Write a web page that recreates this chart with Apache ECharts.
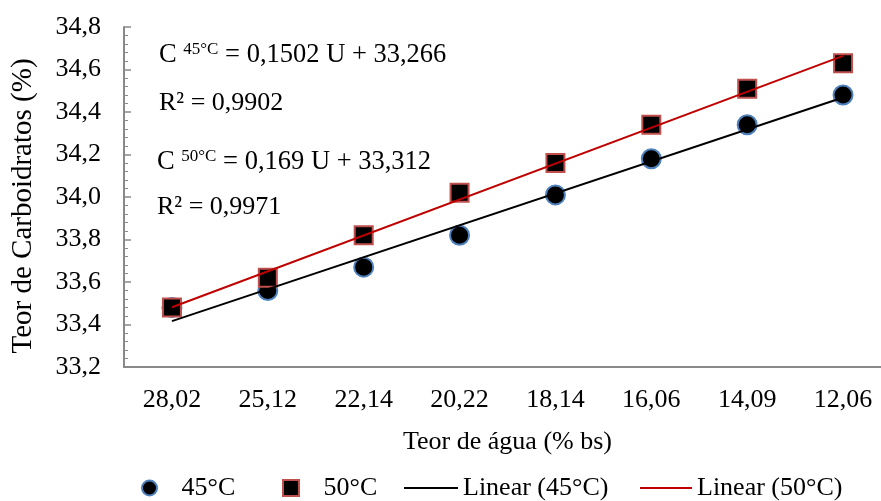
<!DOCTYPE html>
<html>
<head>
<meta charset="utf-8">
<script src="https://cdn.jsdelivr.net/npm/echarts@6/dist/echarts.min.js"></script>
<style>
  html, body { margin: 0; padding: 0; background: #fff; }
  #chart { width: 881px; height: 501px; }
</style>
</head>
<body>
<div id="chart"></div>
<script>
// teor de água (% bs)
const categories = ['28,02', '25,12', '22,14', '20,22', '18,14', '16,06', '14,09', '12,06']
const carb45 = [33.48, 33.56, 33.67, 33.82, 34.01, 34.18, 34.34, 34.48]
const carb50 = [33.48, 33.62, 33.82, 34.02, 34.16, 34.34, 34.51, 34.63]
// linhas de tendência: valores no primeiro e no último ponto
const trend45 = [33.416, 34.468]
const trend50 = [33.481, 34.664]
const yTicks = [33.2, 33.4, 33.6, 33.8, 34.0, 34.2, 34.4, 34.6, 34.8]

const font = '"Liberation Serif", "DejaVu Serif", serif'
const axisGray = '#898989'
const legendText = { fontFamily: font, fontSize: 26, color: '#000' }

function legendFor (name, left, opts) {
  return Object.assign({
    left: left, top: 475, padding: 0,
    itemWidth: 15, itemHeight: 15,
    textStyle: legendText,
    data: [name]
  }, opts)
}

const eqRich = {
  m: { fontFamily: font, fontSize: 26.5, color: '#000' },
  s: { fontFamily: font, fontSize: 17, color: '#000', verticalAlign: 'top', padding: [0, 0, 9, 0] }
}

const chart = echarts.init(document.getElementById('chart'))
chart.setOption({
  animation: false,
  textStyle: { fontFamily: font, color: '#000' },
  grid: { left: 124, right: -10, top: 27, bottom: 134, outerBoundsMode: 'none' },
  legend: [
    legendFor({ name: '45°C', icon: 'circle' }, 141, { formatter: '   {name}' }),
    legendFor({ name: '50°C', icon: 'rect' }, 282, { itemWidth: 16, itemHeight: 16, formatter: '   {name}' }),
    legendFor({ name: 'Linear (45°C)', icon: 'rect' }, 404, { itemWidth: 54, itemHeight: 2 }),
    legendFor({ name: 'Linear (50°C)', icon: 'rect' }, 640, { itemWidth: 52, itemHeight: 2 })
  ],
  xAxis: [{
    type: 'category',
    data: categories,
    name: 'Teor de água (% bs)',
    nameLocation: 'middle',
    nameGap: 62,
    nameTextStyle: { fontFamily: font, fontSize: 26, color: '#000' },
    axisLine: { lineStyle: { color: axisGray, width: 2 } },
    axisTick: { alignWithLabel: true, inside: true, length: 6, lineStyle: { color: axisGray, width: 1.5 } },
    axisLabel: { fontFamily: font, fontSize: 26, color: '#000', margin: 20 }
  }, {
    type: 'category',
    data: categories,
    position: 'bottom',
    axisLine: { show: false },
    axisTick: { inside: true, length: 8, lineStyle: { color: axisGray, width: 1.5 } },
    axisLabel: { show: false }
  }],
  yAxis: {
    type: 'value',
    min: yTicks[0],
    max: yTicks[yTicks.length - 1],
    interval: 0.2,
    name: 'Teor de Carboidratos (%)',
    nameLocation: 'middle',
    nameGap: 86,
    nameTextStyle: { fontFamily: font, fontSize: 29, color: '#000', padding: [0, 18, 0, 0] },
    axisLine: { show: true, lineStyle: { color: axisGray, width: 2 } },
    axisTick: { show: true, inside: true, length: 7, lineStyle: { color: axisGray, width: 1.5 } },
    minorTick: { show: true, splitNumber: 5, length: 4, lineStyle: { color: axisGray } },
    splitLine: { show: false },
    axisLabel: {
      fontFamily: font, fontSize: 26, color: '#000', margin: 23,
      formatter: v => v.toFixed(1).replace('.', ',')
    }
  },
  graphic: [
    { type: 'text', x: 159, y: 55, style: { text: '{m|C }{s|45°C}{m| = 0,1502 U + 33,266}', verticalAlign: 'middle', rich: eqRich } },
    { type: 'text', x: 159, y: 103, style: { text: 'R² = 0,9902', verticalAlign: 'middle', fontFamily: font, fontSize: 26, fill: '#000' } },
    { type: 'text', x: 157, y: 162, style: { text: '{m|C }{s|50°C}{m| = 0,169 U + 33,312}', verticalAlign: 'middle', rich: eqRich } },
    { type: 'text', x: 157, y: 207, style: { text: 'R² = 0,9971', verticalAlign: 'middle', fontFamily: font, fontSize: 26, fill: '#000' } }
  ],
  series: [
    {
      name: 'Linear (45°C)', type: 'line', symbol: 'none', z: 3,
      data: [[0, trend45[0]], [categories.length - 1, trend45[1]]],
      lineStyle: { color: '#000', width: 2 }, itemStyle: { color: '#000' }
    },
    {
      name: 'Linear (50°C)', type: 'line', symbol: 'none', z: 3,
      data: [[0, trend50[0]], [categories.length - 1, trend50[1]]],
      lineStyle: { color: '#c00000', width: 2 }, itemStyle: { color: '#c00000' }
    },
    {
      name: '45°C', type: 'scatter', symbol: 'circle', symbolSize: 19, z: 2,
      data: carb45,
      itemStyle: { color: '#000', borderColor: '#4f81bd', borderWidth: 2, opacity: 1 }
    },
    {
      name: '50°C', type: 'scatter', symbol: 'rect', symbolSize: 18, z: 2,
      data: carb50,
      itemStyle: { color: '#000', borderColor: '#c0504d', borderWidth: 2, opacity: 1 }
    }
  ]
})
</script>
</body>
</html>
